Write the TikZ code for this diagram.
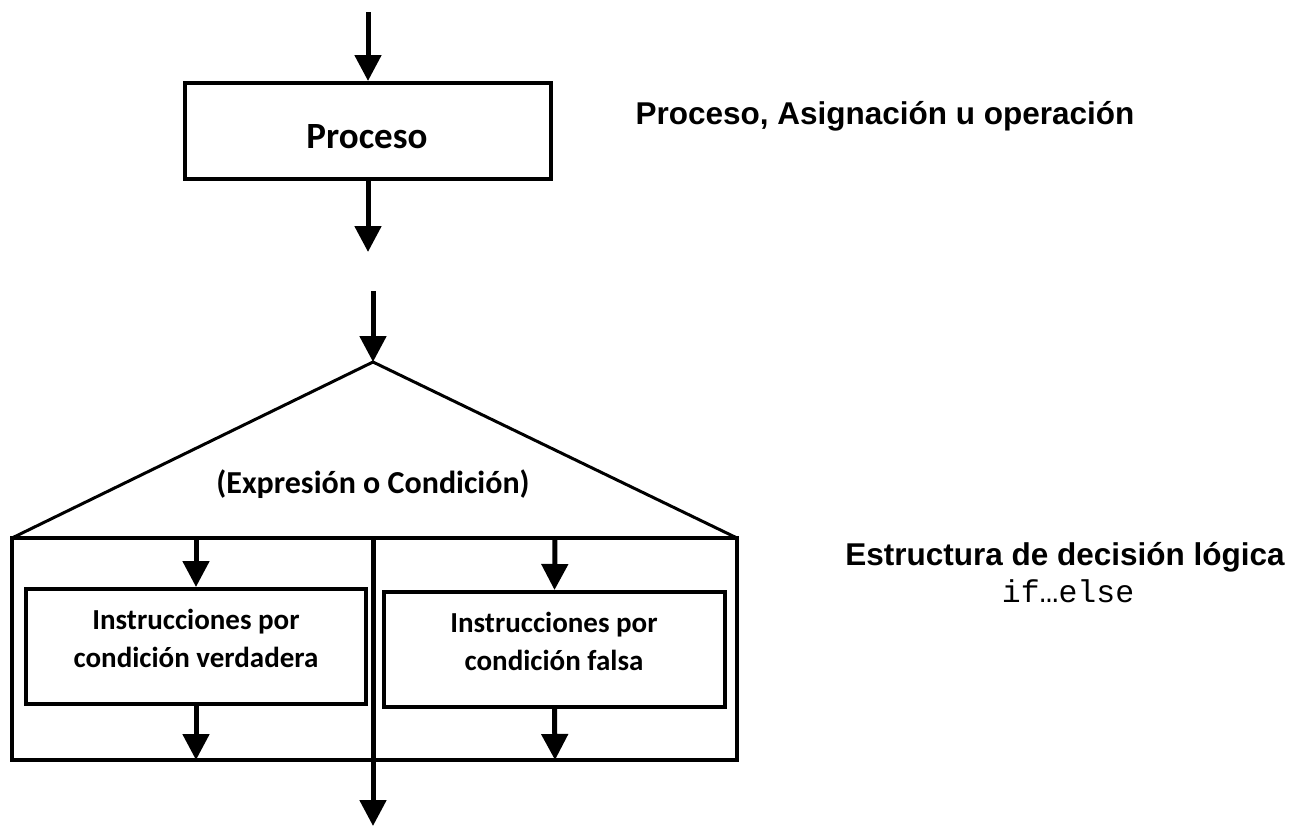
\documentclass[tikz,border=0pt]{standalone}
\usepackage{fontspec}
\setmainfont{Liberation Sans}
\newfontfamily\calfont{Carlito}
\newfontfamily\arialfont{Liberation Sans}
\newfontfamily\courfont{Liberation Mono}
\usetikzlibrary{arrows.meta}
\begin{document}
\begin{tikzpicture}[x=1pt,y=-1pt,
  boxst/.style={draw, line width=4pt, rectangle, inner sep=0pt},
  flow/.style={line width=5pt, -{Triangle[width=26pt,length=26pt]}},
  thin3/.style={line width=3pt},
  caltext/.style={font=\calfont\bfseries\fontsize{29}{38}\selectfont, align=center, inner sep=0pt},
  ariallbl/.style={font=\arialfont\bfseries\fontsize{31.5}{38}\selectfont, inner sep=0pt, anchor=base},
]
\useasboundingbox (0,0) rectangle (1292,827);
% Proceso block
\node[boxst, minimum width=366pt, minimum height=96pt] (proc) at (368,131) {};
\node[caltext, font=\calfont\bfseries\fontsize{37}{42}\selectfont, anchor=base] (proctxt) at (367,148) {Proceso};
\coordinate (t0) at (368,12);
\coordinate (p1) at (368,252);
\draw[flow] (t0) -- (proc.north);
\draw[flow] (proc.south) -- (p1);
\node[ariallbl] (lbl1) at (885,124) {Proceso, Asignación u operación};

% Decision structure
\coordinate (d0) at (373,291);
\coordinate (apex) at (373,362);
\coordinate (bl) at (12,538);
\coordinate (br) at (737,538);
\coordinate (obr) at (737,760);
\coordinate (cb) at (373,538);
\coordinate (cend) at (373,826);
\draw[flow] (d0) -- (apex);
\draw[thin3, line join=miter] (bl) -- (apex) -- (br);
\draw[line width=4pt] (bl) rectangle (obr);
\node[caltext, font=\calfont\bfseries\fontsize{32}{38}\selectfont, anchor=base] (cond) at (373,493) {(Expresión o Condición)};
\draw[flow] (cb) -- (cend);

% branches
\node[boxst, minimum width=340pt, minimum height=115pt] (lbox) at (196,646.5) {};
\node[boxst, minimum width=341pt, minimum height=115pt] (rbox) at (554.5,649.5) {};
\node[caltext, anchor=base] (ltxt) at (196,667) {Instrucciones por\\condición verdadera};
\node[caltext, anchor=base] (rtxt) at (554,670) {Instrucciones por\\condición falsa};
\coordinate (la) at (196,538);
\coordinate (lb) at (196,760);
\coordinate (ra) at (555,538);
\coordinate (rb) at (555,760);
\draw[flow] (la) -- (lbox.north);
\draw[flow] (lbox.south) -- (lb);
\draw[flow] (ra) -- (rbox.north);
\draw[flow] (rbox.south) -- (rb);

\node[ariallbl] (lbl2) at (1065,565) {Estructura de decisión lógica};
\node[font=\courfont\fontsize{31.5}{38}\selectfont, inner sep=0pt, anchor=base] (lbl3) at (1068,602) {if…else};
\end{tikzpicture}
\end{document}
